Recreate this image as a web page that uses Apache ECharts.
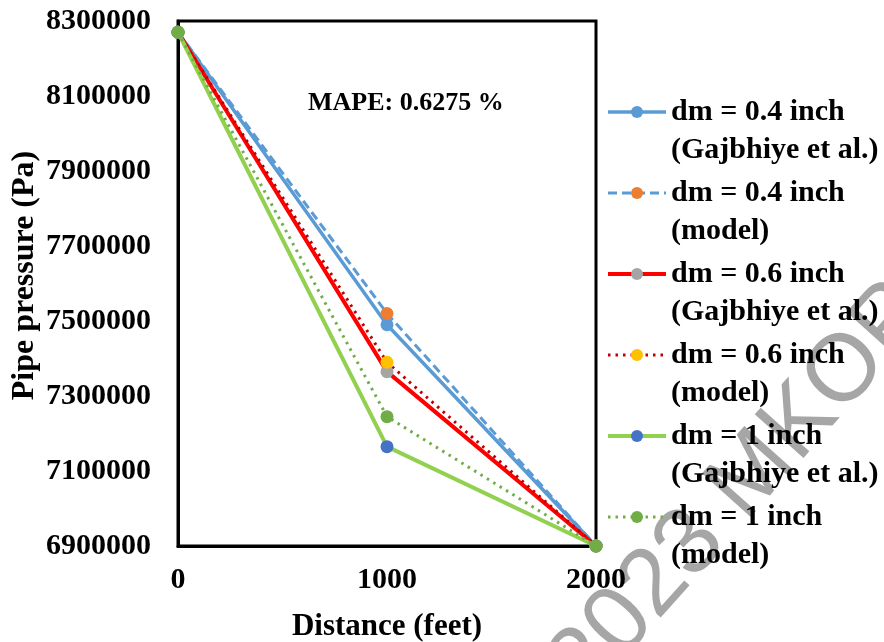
<!DOCTYPE html>
<html>
<head>
<meta charset="utf-8">
<script src="https://cdn.jsdelivr.net/npm/echarts@6/dist/echarts.min.js"></script>
<style>
  html, body { margin: 0; padding: 0; background: #fff; }
  #chart { width: 884px; height: 642px; }
</style>
</head>
<body>
<div id="chart"></div>
<script>
// Distance along the pipe (feet)
const distance = [0, 1000, 2000];

// Pipe pressure (Pa) for each mud-line diameter
const gaj04   = [8270000, 7490000, 6900000];
const model04 = [8270000, 7520000, 6900000];
const gaj06   = [8270000, 7365000, 6900000];
const model06 = [8270000, 7390000, 6900000];
const gaj1    = [8270000, 7165000, 6900000];
const model1  = [8270000, 7245000, 6900000];

const seriesNames = [
  'dm = 0.4 inch\n(Gajbhiye et al.)',
  'dm = 0.4 inch\n(model)',
  'dm = 0.6 inch\n(Gajbhiye et al.)',
  'dm = 0.6 inch\n(model)',
  'dm = 1 inch\n(Gajbhiye et al.)',
  'dm = 1 inch\n(model)'
];

const yTicks = [6900000, 8300000, 200000]; // min, max, step
const xTicks = [0, 2000, 1000];
const mapeText = 'MAPE: 0.6275 %';

const FONT = '"Liberation Serif", "Times New Roman", serif';

function pairs(vals) {
  return distance.map((d, i) => [d, vals[i]]);
}

function lineSeries(name, vals, lineColor, width, type, markColor) {
  return {
    name: name,
    type: 'line',
    data: pairs(vals),
    symbol: 'circle',
    symbolSize: 13,
    showSymbol: true,
    lineStyle: { color: lineColor, width: width, type: type },
    itemStyle: { color: markColor, borderWidth: 0 },
    emphasis: { disabled: true },
    animation: false
  };
}

const chart = echarts.init(document.getElementById('chart'), null, { renderer: 'canvas' });

chart.setOption({
  backgroundColor: '#ffffff',
  animation: false,
  grid: {
    left: 178, right: 288, top: 21, bottom: 96,
    outerBoundsMode: 'none',
    containLabel: false,
    show: true, borderColor: '#000', borderWidth: 3, backgroundColor: 'transparent'
  },
  xAxis: {
    type: 'value',
    min: xTicks[0], max: xTicks[1], interval: xTicks[2],
    name: 'Distance (feet)',
    nameLocation: 'middle',
    nameGap: 65,
    nameTextStyle: { fontFamily: FONT, fontWeight: 'bold', fontSize: 31, color: '#000' },
    axisLine: { show: true, lineStyle: { color: '#000', width: 3 } },
    axisTick: { show: false },
    splitLine: { show: false },
    axisLabel: {
      fontFamily: FONT, fontWeight: 'bold', fontSize: 30, color: '#000', margin: 19,
      formatter: v => String(v)
    }
  },
  yAxis: {
    type: 'value',
    min: yTicks[0], max: yTicks[1], interval: yTicks[2],
    name: 'Pipe pressure (Pa)',
    nameLocation: 'middle',
    nameGap: 137,
    nameTextStyle: {
      fontFamily: FONT, fontWeight: 'bold', fontSize: 32, color: '#000',
      padding: [0, 0, 0, 16]
    },
    axisLine: { show: true, lineStyle: { color: '#000', width: 3 } },
    axisTick: { show: false },
    splitLine: { show: false },
    axisLabel: {
      fontFamily: FONT, fontWeight: 'bold', fontSize: 30, color: '#000', margin: 27,
      formatter: v => String(v)
    }
  },
  legend: {
    orient: 'vertical',
    left: 601,
    top: 50,
    itemWidth: 58,
    itemHeight: 15,
    itemGap: -33,
    selectedMode: false,
    lineStyle: { width: 'inherit' },
    // leading blank line puts the first text line level with the icon
    formatter: name => '\n' + name,
    textStyle: {
      fontFamily: FONT, fontWeight: 'bold', fontSize: 30, color: '#000',
      lineHeight: 38
    },
    data: seriesNames
  },
  graphic: [
    {
      type: 'text',
      left: 308, top: 90,
      style: { text: mapeText, font: 'bold 26px ' + FONT, fill: '#000' },
      z: 100
    },
    {
      type: 'text',
      x: 503, y: 754,
      rotation: 0.84,
      silent: true,
      style: {
        text: '\u00a9 2023 MKOPSC',
        font: '95px "Liberation Sans", Arial, sans-serif',
        fill: 'rgba(150,150,150,0.85)',
        verticalAlign: 'middle',
        align: 'left'
      },
      z: -10
    }
  ],
  series: [
    lineSeries(seriesNames[0], gaj04,   '#5B9BD5', 3.5, 'solid',  '#5B9BD5'),
    lineSeries(seriesNames[1], model04, '#5B9BD5', 3,   [9, 5],   '#ED7D31'),
    lineSeries(seriesNames[2], gaj06,   '#FF0000', 4,   'solid',  '#A5A5A5'),
    lineSeries(seriesNames[3], model06, '#C00000', 3,   [2.5, 5], '#FFC000'),
    lineSeries(seriesNames[4], gaj1,    '#92D050', 4,   'solid',  '#4472C4'),
    lineSeries(seriesNames[5], model1,  '#70AD47', 3,   [2.5, 5], '#70AD47')
  ]
});
</script>
</body>
</html>
